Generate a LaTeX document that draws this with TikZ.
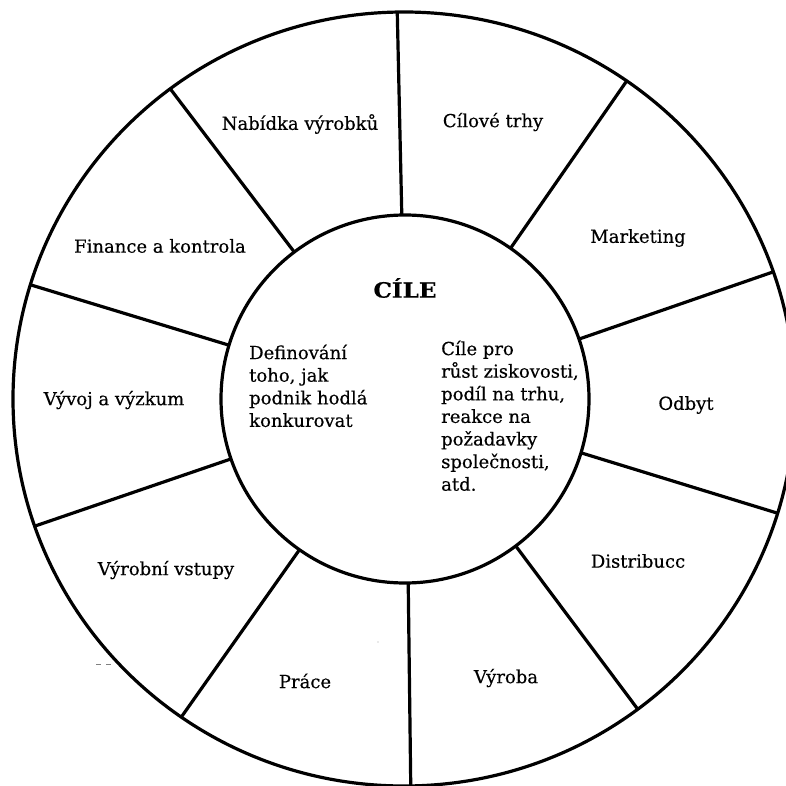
\documentclass[tikz,border=0pt]{standalone}
\usepackage{fontspec}
\setmainfont{DejaVu Serif}[FakeBold=0.4]
\usetikzlibrary{shapes.geometric}
\begin{document}
\begin{tikzpicture}[x=1pt,y=1pt,
  ring/.style={draw, line width=3.2pt, inner sep=0pt, outer sep=0pt},
  spoke/.style={line width=3.2pt},
  sector/.style={font=\fontsize{18}{21}\selectfont, inner sep=0pt},
  note/.style={font=\fontsize{18}{22.6}\selectfont, align=left, inner sep=0pt, anchor=north west},
  heading/.style={font=\bfseries\fontsize{21}{24}\selectfont\addfontfeature{FakeStretch=1.1}, inner sep=0pt}]
\useasboundingbox (0,0) rectangle (786,785);

% rim and hub of the wheel
\node[ring, ellipse, minimum width=782pt, minimum height=774pt] (rim) at (404,386) {};
\node[ring, circle, minimum size=368pt] (hub) at (405,386) {};

% ten spokes between hub and rim
\foreach \a in {91,55,19,343,307,271,235,199,163,127}
  \draw[spoke] (hub.\a) -- (rim.\a);

% sector labels
\node[sector] (nab) at (300,661) {Nabídka výrobků};
\node[sector] (cil) at (493,663) {Cílové trhy};
\node[sector] (mkt) at (638,547) {Marketing};
\node[sector] (odb) at (686,380) {Odbyt};
\node[sector] (dis) at (638,224) {Distribucc};
\node[sector] (vyr) at (506,107) {Výroba};
\node[sector] (pra) at (305,104) {Práce};
\node[sector] (vst) at (166,215) {Výrobní vstupy};
\node[sector] (vav) at (114,385) {Vývoj a výzkum};
\node[sector] (fin) at (160,539) {Finance a kontrola};

% centre texts
\node[heading] (cile) at (405,497) {CÍLE};
\node[note] (def) at (249,440.5) {Definování\\toho, jak\\podnik hodlá\\konkurovat};
\node[note] (goal) at (441,444.5) {Cíle pro\\růst ziskovosti,\\podíl na trhu,\\reakce na\\požadavky\\společnosti,\\atd.};

% specks
\draw[gray, line width=0.6pt] (96,121) -- (101,121) (106,121) -- (111,121);
\fill[gray!70] (378,143) circle (0.7pt);
\end{tikzpicture}
\end{document}
